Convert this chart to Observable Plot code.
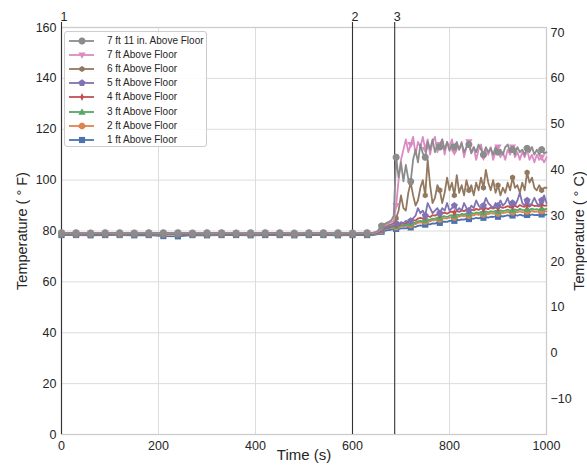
<!DOCTYPE html>
<html><head><meta charset="utf-8">
<script src="https://cdn.jsdelivr.net/npm/d3@7"></script>
<script src="https://cdn.jsdelivr.net/npm/@observablehq/plot@0.6"></script>
<style>
body{margin:0;background:#fff;}
#wrap{position:relative;width:587px;height:467px;font-family:"Liberation Sans",Arial,sans-serif;overflow:hidden;}
#legend{position:absolute;left:64px;top:31px;width:143px;height:116px;border:1px solid #cccccc;border-radius:3px;background:rgba(255,255,255,0.85);box-sizing:border-box;}
.item{position:absolute;left:0;height:14px;font-size:10px;color:#262626;white-space:nowrap;}
.item svg{position:absolute;left:0;top:0;}
.item span{position:absolute;left:42px;top:0;line-height:14px;}
</style></head>
<body><div id="wrap"></div>
<script>
// ---- data ----
const times = [0,30,60,90,120,150,180,210,240,270,300,330,360,390,420,450,480,510,540,570,600,630,
  640,645,650,655,660,665,670,675,680,685,
  690,695,700,705,710,715,720,725,730,735,
  740,745,750,755,760,765,770,775,780,785,
  790,795,800,805,810,815,820,825,830,835,
  840,845,850,855,860,865,870,875,880,885,
  890,895,900,905,910,915,920,925,930,935,
  940,945,950,955,960,965,970,975,980,985,
  990,995,1000];

const ft7_11 = [79.3,79.3,79.2,79.3,79.3,79.2,79.3,79.3,79.3,79.2,79.3,79.3,79.2,79.3,79.3,79.3,79.2,79.3,79.3,79.3,79.2,79.3,
  79.3,79.5,79.8,80.6,82.0,82.6,83.1,83.6,84.2,86.0,
  109,101,107,99.5,106,100.5,99.5,108,112,107,
  114,110.5,109,115,112,116,111,114,113,116,
  112,115,111.5,114,113,115,112,114.5,111,113,
  114,110.5,113,111,114,112,110,113,111,112.5,
  110,113,111,112,110,113,114,111,112,110,
  113,111,112,110,112.5,111,113,110,112,110,
  112,110.5,111];
const ft7 = [79.2,79.1,79.2,79.2,79.1,79.2,79.2,79.1,79.2,79.2,79.1,79.2,79.2,79.1,79.2,79.2,79.1,79.2,79.2,79.1,79.2,79.2,
  79.2,79.4,79.6,80.2,81.5,82.0,82.5,83.0,83.5,84.0,
  90,100,108,112,116,111,114,117,110,115,
  113,117,112,116,110,115,117,111,114,116,
  110,115,113,116,111,114,112,115,109,113,
  115,111,113,108,112,114,109,112,110,113,
  108,111,113,109,111,108,112,110,113,109,
  111,108,111,109,112,108,110,107,110,108,
  109,107,109];
const ft6 = [79.1,79.0,79.1,79.1,79.0,79.1,79.1,79.0,79.1,79.1,79.0,79.1,79.1,79.0,79.1,79.1,79.0,79.1,79.1,79.0,79.1,79.1,
  79.1,79.3,79.5,80.0,81.0,81.5,82.0,82.3,82.6,83.0,
  85,88,94,89,88,95,99,94,90,92,
  97,100,94,108,98,91,93,98,96,91,
  95,101,96,99,94,102,95,98,94,100,
  96,98,94,99,96,101,97,104,99,96,
  100,95,98,94,97,95,99,96,101,97,
  98,95,99,96,103,99,101,97,96,98,
  96,97,97];
const ft5 = [79.0,78.9,79.0,79.0,78.9,79.0,79.0,78.9,79.0,79.0,78.9,79.0,79.0,78.9,79.0,79.0,78.9,79.0,79.0,78.9,79.0,79.0,
  79.0,79.2,79.4,79.8,80.5,81.0,81.3,81.6,81.8,82.0,
  83,82.5,83.5,83,84,83.5,84,85,86,89,
  87,88,86,91,89,87,88,89,87,89,
  88,91,88,89,90,88,89,88,91,89,
  88,90,89,92,90,89,90,93,91,90,
  89,91,90,92,90,91,93,90,91,90,
  92,95,91,90,92,90,91,93,91,90,
  92,94,91];
const ft4 = [78.9,78.8,78.9,78.9,78.8,78.9,78.9,78.8,78.9,78.9,78.8,78.9,78.9,78.8,78.9,78.9,78.8,78.9,78.9,78.8,78.9,78.9,
  78.9,79.0,79.2,79.6,80.6,81.0,81.3,81.5,81.8,82.0,
  82.4,82.3,82.9,83.1,83.0,83.6,83.8,84.3,84.1,84.9,
  85.2,84.8,85.6,85.9,85.5,86.2,86.0,86.6,86.3,86.9,
  87.2,86.8,87.4,87.6,87.2,87.9,87.5,88.1,87.8,88.3,
  88.0,88.4,88.1,88.7,88.3,88.9,88.5,89.0,88.6,89.2,
  88.8,89.3,88.9,89.5,89.1,89.4,89.8,89.2,89.6,89.9,
  89.4,90.2,89.7,89.5,90.1,89.6,90.3,89.8,90.0,89.7,
  90.4,89.9,90.1];
const ft3 = [78.8,78.7,78.8,78.8,78.7,78.8,78.8,78.7,78.8,78.8,78.7,78.8,78.8,78.7,78.8,78.8,78.7,78.8,78.8,78.7,78.8,78.8,
  78.8,78.9,79.1,79.4,80.3,80.7,81.0,81.2,81.4,81.6,
  81.9,81.8,82.2,82.4,82.3,82.8,82.9,83.3,83.2,83.8,
  84.0,83.7,84.3,84.6,84.4,84.9,84.8,85.3,85.1,85.6,
  85.8,85.5,86.0,86.2,85.9,86.5,86.2,86.7,86.5,86.9,
  86.7,87.1,86.8,87.3,87.0,87.5,87.2,87.7,87.3,87.8,
  87.5,87.9,87.6,88.1,87.8,88.0,88.4,87.9,88.2,88.5,
  88.1,88.7,88.3,88.2,88.6,88.3,88.8,88.4,88.6,88.3,
  88.9,88.5,88.7];
const ft2 = [78.7,78.6,78.7,78.7,78.6,78.7,78.7,78.6,78.7,78.7,78.6,78.7,78.7,78.6,78.7,78.7,78.6,78.7,78.7,78.6,78.7,78.7,
  78.7,78.8,79.0,79.3,80.1,80.5,80.8,81.0,81.2,81.3,
  81.5,81.4,81.8,82.0,81.9,82.3,82.4,82.8,82.7,83.2,
  83.4,83.2,83.7,84.0,83.8,84.3,84.2,84.6,84.5,84.9,
  85.1,84.9,85.3,85.5,85.3,85.8,85.6,86.0,85.8,86.2,
  86.0,86.4,86.1,86.6,86.3,86.7,86.5,86.9,86.6,87.0,
  86.8,87.1,86.9,87.3,87.0,87.2,87.5,87.1,87.4,87.6,
  87.3,87.8,87.4,87.3,87.7,87.4,87.9,87.5,87.7,87.4,
  87.9,87.6,87.8];
const ft1 = [78.4,78.4,78.3,78.4,78.4,78.3,78.4,78.0,77.9,78.4,78.3,78.4,78.4,78.3,78.4,78.4,78.3,78.4,78.4,78.3,78.4,78.4,
  78.4,78.5,78.7,79.0,79.7,80.0,80.2,80.4,80.5,80.6,
  80.8,80.7,81.0,81.1,81.0,81.3,81.4,81.7,81.6,82.0,
  82.2,82.0,82.5,82.7,82.6,83.0,82.9,83.3,83.2,83.6,
  83.7,83.6,84.0,84.1,84.0,84.4,84.3,84.6,84.5,84.8,
  84.7,85.0,84.8,85.2,85.0,85.3,85.2,85.5,85.3,85.6,
  85.5,85.8,85.6,85.9,85.7,85.9,86.2,85.8,86.1,86.3,
  86.0,86.4,86.1,86.0,86.3,86.1,86.5,86.2,86.3,86.1,
  86.5,86.3,86.4];

const seriesNames = ["7 ft 11 in. Above Floor","7 ft Above Floor","6 ft Above Floor","5 ft Above Floor","4 ft Above Floor","3 ft Above Floor","2 ft Above Floor","1 ft Above Floor"];
const seriesValues = [ft7_11, ft7, ft6, ft5, ft4, ft3, ft2, ft1];
const seriesColors = ["#8c8c8c","#da8bc3","#937860","#8172b3","#c44e52","#55a868","#dd8452","#4c72b0"];

const eventTimes = [0, 600, 687];
const eventLabels = ["1","2","3"];
const xTicks = [0,200,400,600,800,1000];
const yTicksF = [0,20,40,60,80,100,120,140,160];
const yTicksC = [-10,0,10,20,30,40,50,60,70];

// ---- marker shapes ----
function poly(pts){ return {draw(ctx,size){ const r=Math.sqrt(size/Math.PI); pts.forEach(([a,b],i)=> i? ctx.lineTo(a*r,b*r):ctx.moveTo(a*r,b*r)); ctx.closePath(); }}; }
function regular(n, rot, s){ const pts=[]; for(let i=0;i<n;i++){const a=rot+2*Math.PI*i/n; pts.push([s*Math.sin(a),-s*Math.cos(a)]);} return poly(pts); }
const symbols = [
  regular(32,0,1),                                  // circle
  poly([[-1.05,-0.75],[1.05,-0.75],[0,1.05]]),      // triangle down
  regular(6,0,0.85),                                // hexagon
  regular(5,0,1.05),                                // pentagon
  poly([[0,-1.15],[0.55,0],[0,1.15],[-0.55,0]]),    // thin diamond
  poly([[0,-1.05],[1.05,0.75],[-1.05,0.75]]),       // triangle up
  regular(8,Math.PI/8,1.0),                         // octagon
  poly([[-0.88,-0.88],[0.88,-0.88],[0.88,0.88],[-0.88,0.88]]) // square
];

const toF = c => c*9/5+32;
const fmtC = f => { const c = Math.round((f-32)*5/9); return c<0 ? "\u2212"+Math.abs(c) : String(c); };

const seriesMarks = [];
for (let k = seriesNames.length-1; k >= 0; k--) {
  const rows = times.map((t,i)=>({t, v: seriesValues[k][i]}));
  seriesMarks.push(Plot.line(rows, {x:"t", y:"v", stroke: seriesColors[k], strokeWidth: 1.8}));
  seriesMarks.push(Plot.dot(rows.filter(d => d.t % 30 === 0), {x:"t", y:"v", r:3.5, fill: seriesColors[k], stroke: "none", symbol: symbols[k]}));
}

const chart = Plot.plot({
  width: 587, height: 467,
  marginLeft: 61, marginRight: 41, marginTop: 27, marginBottom: 33,
  x: {domain:[0,1000]},
  y: {domain:[0,160]},
  style: {fontFamily:"'Liberation Sans', Arial, sans-serif", fontSize:"12.5px", color:"#262626", background:"white", overflow:"visible"},
  marks: [
    Plot.gridX(xTicks, {stroke:"#dcdcdc", strokeOpacity:1, strokeWidth:1}),
    Plot.gridY(yTicksF, {stroke:"#dcdcdc", strokeOpacity:1, strokeWidth:1}),
    Plot.frame({stroke:"#cccccc", strokeWidth:1.3}),
    Plot.axisX(xTicks, {tickSize:0, tickPadding:7, label:null, tickFormat: d => String(d), fontSize:12.5}),
    Plot.axisY(yTicksF, {anchor:"left", tickSize:0, tickPadding:5, label:null, tickFormat: d => String(d), fontSize:12.5}),
    Plot.axisY(yTicksC.map(toF), {anchor:"right", tickSize:0, tickPadding:4, label:null, tickFormat: fmtC, fontSize:12.5}),
    Plot.ruleX(eventTimes, {x: d=>d, stroke:"#333333", strokeWidth:1.1, insetTop:-5}),
    Plot.text(eventTimes, {x: d=>d, text: (d,i)=>eventLabels[i], frameAnchor:"top", dy:-15, dx:-1, textAnchor:"start", fontSize:12.5, fill:"#262626"}),
    ...seriesMarks,
    Plot.text(["Time (s)"], {frameAnchor:"bottom", dy:25, fontSize:15, fill:"#262626"}),
    Plot.text(["Temperature ( \u00b0 F)"], {frameAnchor:"left", textAnchor:"middle", dx:-39, rotate:-90, fontSize:14.5, fill:"#262626"}),
    Plot.text(["Temperature ( \u00b0 C)"], {frameAnchor:"right", textAnchor:"middle", dx:33, rotate:-90, fontSize:14.5, fill:"#262626"})
  ]
});

const wrap = document.getElementById("wrap");
wrap.appendChild(chart);

// ---- legend ----
const legend = document.createElement("div");
legend.id = "legend";
seriesNames.forEach((name,k)=>{
  const item = document.createElement("div");
  item.className = "item";
  item.style.top = (2 + k*14.1) + "px";
  item.style.width = "140px";
  const p = d3.path();
  symbols[k].draw(p, 3.5*3.5*Math.PI);
  item.innerHTML = `<svg width="40" height="14"><line x1="4" x2="29" y1="7" y2="7" stroke="${seriesColors[k]}" stroke-width="1.8"/><path transform="translate(17,7)" d="${p.toString()}" fill="${seriesColors[k]}"/></svg><span>${name}</span>`;
  legend.appendChild(item);
});
wrap.appendChild(legend);
</script></body></html>
